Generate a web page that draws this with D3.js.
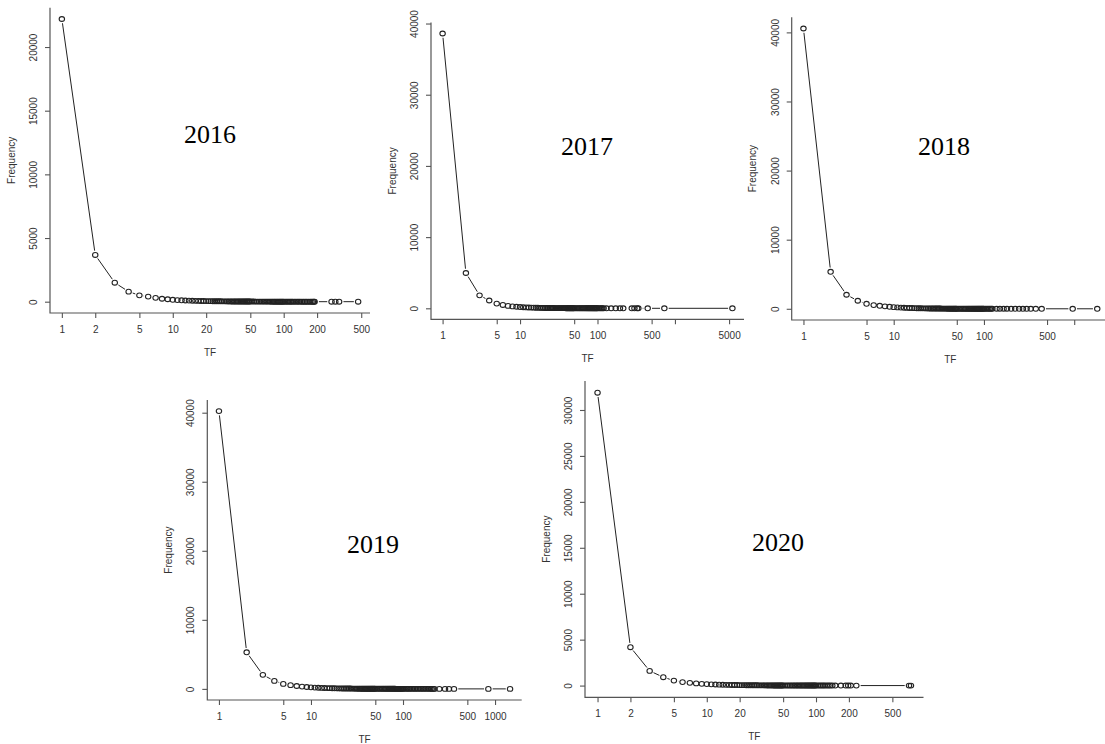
<!DOCTYPE html>
<html>
<head>
<meta charset="utf-8">
<script src="https://cdn.jsdelivr.net/npm/d3@7"></script>
<style>
  body { margin: 0; background: #fff; }
  svg { display: block; }
  .tick text, .axis-title { font-family: "Liberation Sans", Arial, sans-serif; font-size: 10px; fill: #333; }
  .year { font-family: "Liberation Serif", "Times New Roman", serif; font-size: 26px; fill: #000; }
</style>
</head>
<body>
<div id="chart"></div>
<script>
// TF values shared by every year (every integer up to 50, then every other one up to 100)
var tfHead = [1,2,3,4,5,6,7,8,9,10,11,12,13,14,15,16,17,18,19,20,21,22,23,24,25,26,27,28,29,30,
  31,32,33,34,35,36,37,38,39,40,41,42,43,44,45,46,47,48,49,50];
var tfMid = [52,54,56,58,60,62,64,66,68,70,72,74,76,78,80,82,84,86,88,90,92,94,96,98,100];

// sparse upper tail of each year
var tfTail2016 = [103,106,109,112,115,118,121,125,129,133,137,141,146,151,156,161,167,173,178,183,187,190,270,292,316,469];
var tfTail2017 = [104,108,112,116,120,131,150,172,195,215,277,300,325,337,445,730,5520];
var tfTail2018 = [104,108,112,116,120,124,138,150,165,180,200,222,245,270,297,330,375,436,962,1800];
var tfTail2019 = [104,108,112,116,120,125,130,135,140,146,152,158,164,170,177,184,191,198,205,212,220,248,286,316,358,846,1456];
var tfTail2020 = [104,108,112,116,120,125,130,135,141,150,169,187,197,208,234,710,740];

// frequencies: head (50) + mid (25) + tail
var freq2016 = [22200,3670,1490,790,500,400,300,230,190,150,125,110,95,85,75,68,62,56,52,48,
  45,42,39,36,34,32,30,28,27,25,24,23,22,21,20,19,18,17,17,16,15,15,14,14,13,13,12,12,11,11,
  10,10,9,9,8,8,8,7,7,7,6,6,6,5,5,5,5,4,4,4,4,4,3,3,3,
  3,3,3,2,2,2,2,2,2,2,2,2,1,1,1,1,1,1,1,1,1,1,1,1,1,1];
var freq2017 = [38600,4960,1820,1100,660,470,340,270,220,180,150,130,115,100,90,80,72,66,60,55,
  51,47,44,41,38,36,34,32,30,28,27,26,24,23,22,21,20,19,18,18,17,16,16,15,15,14,14,13,13,12,
  12,11,11,10,10,9,9,9,8,8,8,7,7,7,6,6,6,6,5,5,5,5,5,4,4,
  4,4,3,3,3,3,2,2,2,2,1,1,1,1,1,1,1];
var freq2018 = [40560,5350,2030,1160,720,535,430,350,290,240,200,175,150,130,115,105,95,86,78,72,
  66,61,57,53,50,47,44,41,39,37,35,33,31,30,28,27,26,25,24,23,22,21,20,19,19,18,17,17,16,16,
  15,15,14,13,13,12,12,11,11,10,10,10,9,9,9,8,8,8,8,7,7,7,7,6,6,
  6,5,5,5,5,4,4,3,3,3,2,2,2,2,1,1,1,1,1,1];
var freq2019 = [40230,5300,2030,1160,725,540,420,330,270,225,190,165,145,128,115,104,94,86,79,73,
  68,63,59,55,52,49,46,43,41,39,37,35,33,32,30,29,28,27,26,25,24,23,22,21,21,20,19,19,18,18,
  17,16,16,15,14,14,13,13,12,12,11,11,11,10,10,10,9,9,9,8,8,8,8,7,7,
  7,7,6,6,6,5,5,5,5,4,4,4,4,3,3,3,3,3,2,2,2,2,1,1,1,1,1];
var freq2020 = [31880,4180,1600,914,544,380,300,240,190,160,135,118,104,92,82,74,67,61,56,52,
  48,45,42,39,37,35,33,31,29,28,27,25,24,23,22,21,20,19,19,18,17,17,16,16,15,15,14,14,13,13,
  12,12,11,11,10,10,10,9,9,9,8,8,8,7,7,7,7,6,6,6,6,5,5,5,5,
  5,4,4,4,4,4,3,3,3,3,2,2,2,2,1,1,1];

// axis ticks
var xTicksSmall = [1,2,5,10,20,50,100,200,500];
var xTicksWide = [1,5,10,50,100,500,1000];
var xTicks2017 = [1,5,10,50,100,500,1000,5000];
var xLabels2016 = ["1","2","5","10","20","50","100","200","500"];
var xLabels2017 = ["1","5","10","50","100","500","","5000"];
var xLabels2018 = ["1","5","10","50","100","500",""];
var xLabels2019 = ["1","5","10","50","100","500","1000"];
var xLabels2020 = ["1","2","5","10","20","50","100","200","500"];
var yTicks20k = [0,5000,10000,15000,20000];
var yTicks40k = [0,10000,20000,30000,40000];
var yTicks30k = [0,5000,10000,15000,20000,25000,30000];

// panel layout (plot box in pixels, year label position)
var panels = [
  { year: "2016", tf: tfHead.concat(tfMid, tfTail2016), freq: freq2016,
    box: { left: 50, right: 370, top: 7.7, bottom: 313 }, yearPos: [210, 143],
    xTicks: xTicksSmall, xLabels: xLabels2016, yTicks: yTicks20k },
  { year: "2017", tf: tfHead.concat(tfMid, tfTail2017), freq: freq2017,
    box: { left: 431, right: 744, top: 22.5, bottom: 319.3 }, yearPos: [587, 155],
    xTicks: xTicks2017, xLabels: xLabels2017, yTicks: yTicks40k },
  { year: "2018", tf: tfHead.concat(tfMid, tfTail2018), freq: freq2018,
    box: { left: 791.7, right: 1109, top: 17.3, bottom: 320 }, yearPos: [944, 155],
    xTicks: xTicksWide, xLabels: xLabels2018, yTicks: yTicks40k },
  { year: "2019", tf: tfHead.concat(tfMid, tfTail2019), freq: freq2019,
    box: { left: 207.3, right: 521.7, top: 400, bottom: 700 }, yearPos: [373, 552.5],
    xTicks: xTicksWide, xLabels: xLabels2019, yTicks: yTicks40k },
  { year: "2020", tf: tfHead.concat(tfMid, tfTail2020), freq: freq2020,
    box: { left: 585, right: 923.5, top: 381, bottom: 697.3 }, yearPos: [778, 551],
    xTicks: xTicksSmall, xLabels: xLabels2020, yTicks: yTicks30k }
];

var width = 1105, height = 744;
var gap = 4.3; // type="b" gap around each point

var svg = d3.select("#chart")
  .append("svg")
  .attr("width", width)
  .attr("height", height);

svg.append("rect").attr("width", width).attr("height", height).attr("fill", "#fff");

panels.forEach(function(p) {
  var b = p.box;
  var pts = p.tf.map(function(t, i) { return { tf: t, freq: p.freq[i] }; });

  // R-style 4% padding around the data range
  var lmax = Math.log10(d3.max(p.tf));
  var fmax = d3.max(p.freq);
  var x = d3.scaleLog()
    .domain([Math.pow(10, -0.04 * lmax), Math.pow(10, lmax * 1.04)])
    .range([b.left, b.right]);
  var y = d3.scaleLinear()
    .domain([-0.04 * fmax, 1.04 * fmax])
    .range([b.bottom, b.top]);

  var g = svg.append("g");

  // x axis
  var xAxis = g.append("g")
    .attr("transform", "translate(0," + b.bottom + ")")
    .call(d3.axisBottom(x)
      .tickValues(p.xTicks)
      .tickSize(5)
      .tickPadding(8)
      .tickFormat(function(d, i) { return p.xLabels[i]; }));
  xAxis.select(".domain").remove();
  xAxis.selectAll(".tick line").attr("stroke", "#555").attr("stroke-width", 1.1);

  // y axis, labels parallel to the axis
  var yAxis = g.append("g")
    .attr("transform", "translate(" + b.left + ",0)")
    .call(d3.axisLeft(y)
      .tickValues(p.yTicks)
      .tickSize(5)
      .tickFormat(d3.format("d")));
  yAxis.select(".domain").remove();
  yAxis.selectAll(".tick line").attr("stroke", "#555").attr("stroke-width", 1.1);
  yAxis.selectAll(".tick text")
    .attr("x", null)
    .attr("dy", "0.35em")
    .attr("text-anchor", "middle")
    .attr("transform", "translate(-16.7,0) rotate(-90)");

  // L-shaped box
  g.append("path")
    .attr("d", "M" + b.left + "," + b.top + "V" + b.bottom + "H" + b.right)
    .attr("fill", "none")
    .attr("stroke", "#555")
    .attr("stroke-width", 1.2);

  // axis titles
  g.append("text")
    .attr("class", "axis-title")
    .attr("x", (b.left + b.right) / 2)
    .attr("y", b.bottom + 39)
    .attr("dy", "0.35em")
    .attr("text-anchor", "middle")
    .text("TF");

  g.append("text")
    .attr("class", "axis-title")
    .attr("transform", "translate(" + (b.left - 39) + "," + ((b.top + b.bottom) / 2) + ") rotate(-90)")
    .attr("dy", "0.35em")
    .attr("text-anchor", "middle")
    .text("Frequency");

  // line segments with gaps around the points
  var segs = [];
  for (var i = 1; i < pts.length; i++) {
    var x1 = x(pts[i - 1].tf), y1 = y(pts[i - 1].freq);
    var x2 = x(pts[i].tf), y2 = y(pts[i].freq);
    var d = Math.hypot(x2 - x1, y2 - y1);
    if (d > 2 * gap) {
      var ux = (x2 - x1) / d, uy = (y2 - y1) / d;
      segs.push([x1 + ux * gap, y1 + uy * gap, x2 - ux * gap, y2 - uy * gap]);
    }
  }
  g.append("g")
    .selectAll("line")
    .data(segs)
    .enter().append("line")
    .attr("x1", function(s) { return s[0]; })
    .attr("y1", function(s) { return s[1]; })
    .attr("x2", function(s) { return s[2]; })
    .attr("y2", function(s) { return s[3]; })
    .attr("stroke", "#222")
    .attr("stroke-width", 1);

  // open circles
  g.append("g")
    .selectAll("ellipse")
    .data(pts)
    .enter().append("ellipse")
    .attr("cx", function(d) { return x(d.tf); })
    .attr("cy", function(d) { return y(d.freq); })
    .attr("rx", 2.7)
    .attr("ry", 2.4)
    .attr("fill", "none")
    .attr("stroke", "#222")
    .attr("stroke-width", 1.1);

  // year label
  g.append("text")
    .attr("class", "year")
    .attr("x", p.yearPos[0])
    .attr("y", p.yearPos[1])
    .attr("text-anchor", "middle")
    .text(p.year);
});
</script>
</body>
</html>
